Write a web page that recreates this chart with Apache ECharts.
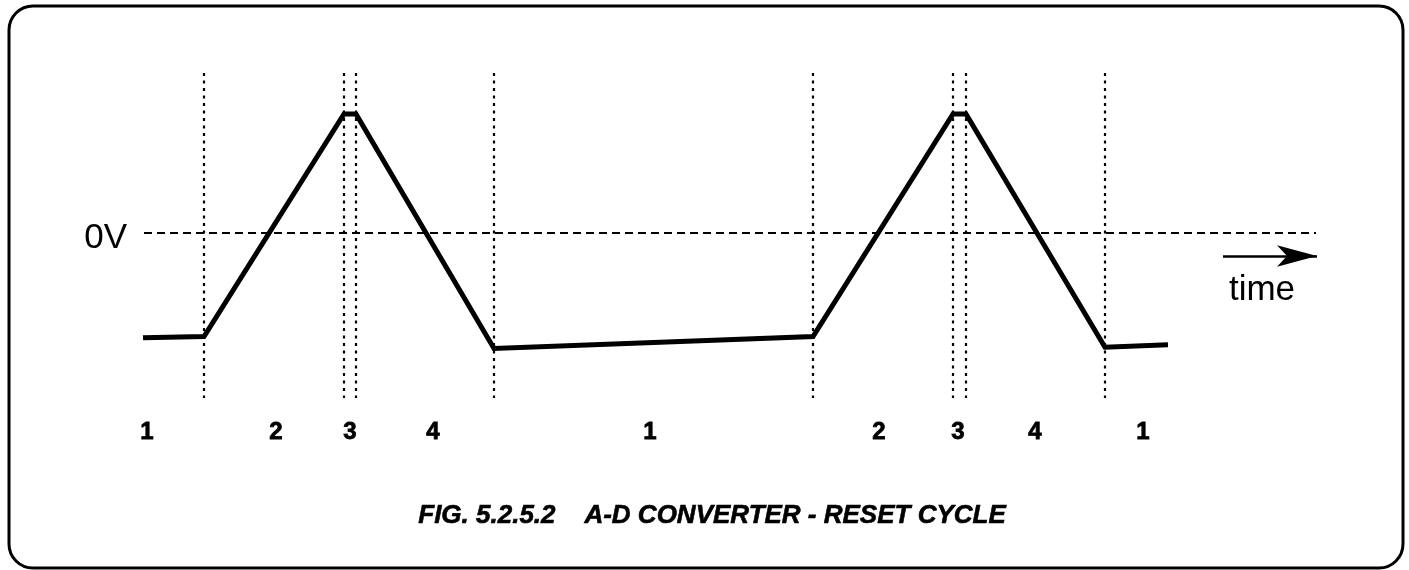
<!DOCTYPE html>
<html>
<head>
<meta charset="utf-8">
<title>A-D Converter - Reset Cycle</title>
<script src="https://cdn.jsdelivr.net/npm/echarts@6/dist/echarts.min.js"></script>
<style>
  html, body { margin: 0; padding: 0; background: #fff; }
  #chart { width: 1409px; height: 570px; }
</style>
</head>
<body>
<div id="chart"></div>
<script>
// Integrator output over two conversion cycles (time in arbitrary units, voltage normalised to peak = 1)
const waveTime  = [14.3, 20.4, 34.4, 35.6, 49.4, 81.3, 95.3, 96.6, 110.5, 116.8];
const waveVolts = [-0.88, -0.87, 1.0, 1.0, -0.97, -0.87, 1.0, 1.0, -0.96, -0.94];

// Phase boundaries (vertical dotted markers)
const phaseEdges = [20.4, 34.4, 35.6, 49.4, 81.3, 95.3, 96.6, 110.5];

// Phase numbers printed under the trace
const phaseLabelTime = [14.7, 27.6, 35.0, 43.3, 65.0, 87.9, 95.8, 103.5, 114.3];
const phaseLabels    = ['1', '2', '3', '4', '1', '2', '3', '4', '1'];

// Reference levels
const zeroLineStart = 14.4, zeroLineEnd = 131.6;
const edgeTop = 1.345, edgeBottom = -1.387;
const labelLevel = -1.672;
const arrowStart = 122.3, arrowEnd = 131.7, arrowLevel = -0.193;

const titleText = 'FIG. 5.2.5.2    A-D CONVERTER - RESET CYCLE';

const chart = echarts.init(document.getElementById('chart'), null, { renderer: 'canvas' });

const font = 'Liberation Sans, Arial, Helvetica, sans-serif';

chart.setOption({
  backgroundColor: '#ffffff',
  animation: false,
  grid: { left: 0, right: 0, top: 0, bottom: 0 },
  xAxis: { type: 'value', min: 0, max: 140.9, show: false },
  yAxis: { type: 'value', min: -2.832, max: 1.958, show: false },
  graphic: [
    {
      type: 'rect',
      shape: { x: 9, y: 6, width: 1394, height: 562, r: 24 },
      style: { fill: 'none', stroke: '#000', lineWidth: 3 },
      z: 0
    },
    {
      type: 'text',
      x: 1262, y: 290,
      style: {
        text: 'time', fill: '#000', font: '35px ' + font,
        textAlign: 'center', textVerticalAlign: 'middle'
      }
    },
    {
      type: 'text',
      x: 712, y: 516,
      style: {
        text: titleText, fill: '#000', font: 'italic bold 26px ' + font,
        textAlign: 'center', textVerticalAlign: 'middle',
        stroke: '#000', lineWidth: 0.6
      }
    }
  ],
  series: [
    {
      name: 'integrator',
      type: 'line',
      data: waveTime.map((t, i) => [t, waveVolts[i]]),
      symbol: 'none',
      lineStyle: { color: '#000', width: 5, cap: 'butt', join: 'miter' },
      z: 5,
      markLine: {
        silent: true,
        symbol: ['none', 'none'],
        animation: false,
        data: [
          // 0 V reference
          [
            { coord: [zeroLineStart, 0], lineStyle: { type: [8, 5], width: 2, color: '#000' },
              label: { show: true, position: 'start', distance: 17, formatter: '0V',
                       offset: [0, 5], color: '#000', fontSize: 35, fontFamily: font } },
            { coord: [zeroLineEnd, 0] }
          ],
          // phase boundaries
          ...phaseEdges.map(t => [
            { coord: [t, edgeTop], lineStyle: { type: [3, 4.5], width: 2.2, color: '#000' },
              label: { show: false } },
            { coord: [t, edgeBottom] }
          ]),
          // time arrow
          [
            { coord: [arrowStart, arrowLevel], symbol: 'none',
              lineStyle: { type: 'solid', width: 2.5, color: '#000' }, label: { show: false } },
            { coord: [arrowEnd, arrowLevel], symbol: 'arrow', symbolSize: [16, 40] }
          ]
        ]
      }
    },
    {
      name: 'phases',
      type: 'scatter',
      symbolSize: 0,
      itemStyle: { opacity: 1 },
      data: phaseLabelTime.map((t, i) => ({ value: [t, labelLevel], name: phaseLabels[i] })),
      label: {
        show: true, position: 'inside', formatter: p => p.name, opacity: 1,
        color: '#000', fontSize: 24, fontWeight: 'bold', fontFamily: font,
        textBorderColor: '#000', textBorderWidth: 0.8
      },
      silent: true
    }
  ]
});
</script>
</body>
</html>
